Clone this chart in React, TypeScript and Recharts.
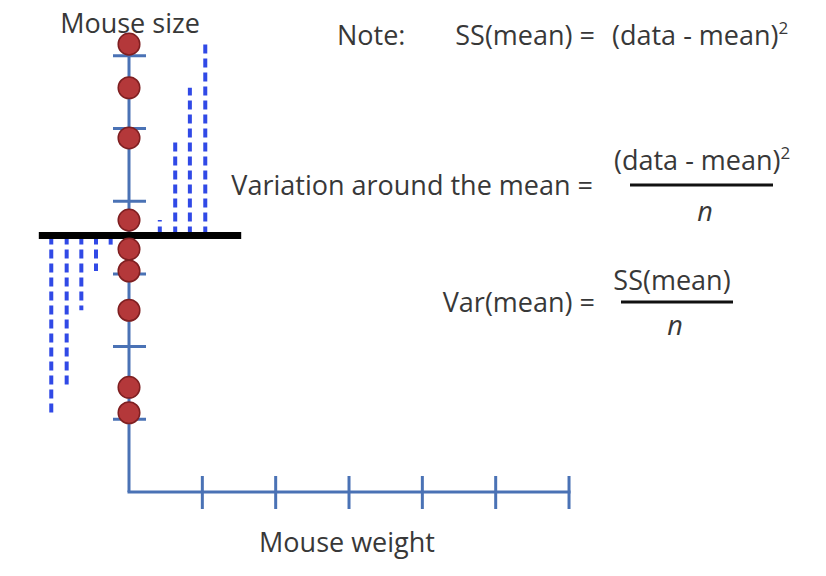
import React from 'react';
import { ScatterChart, Scatter, XAxis, YAxis, ReferenceLine } from 'recharts';

// mouse sizes, all drawn on the y axis (top to bottom)
const sizes = [6.16, 5.56, 4.87, 3.74, 3.34, 3.04, 2.5, 1.44, 1.09];
// where each residual (dashed) line sits horizontally
const residualX = [1.04, 0.83, 0.63, 0.42, -0.25, -0.45, -0.65, -0.85, -1.06];
const xTicks = [1, 2, 3, 4, 5, 6];
const yTicks = [1, 2, 3, 4, 5, 6];
const meanSpan = [-1.23, 1.53];
const yAxisTop = 6.2;
const xAxisEnd = 6;

const AXIS = '#4a72b5';
const DASH = '#3049e6';
const TEXT = '#383838';
const FONT = '"Open Sans", sans-serif';

const mean = sizes.reduce((a, b) => a + b, 0) / sizes.length;
const points = sizes.map((y) => ({ x: 0, y }));
const xTickData = xTicks.map((x) => ({ x, y: 0 }));
const yTickData = yTicks.map((y) => ({ x: 0, y }));

const Dot = (props: any) => (
    <circle cx={props.cx} cy={props.cy} r={10.8} fill="#b4383a" stroke="#7e1f21" strokeWidth={1.5} />
);

const XTick = (props: any) => (
    <line x1={props.cx} x2={props.cx} y1={props.cy - 16} y2={props.cy + 17} stroke={AXIS} strokeWidth={3} />
);

const YTick = (props: any) => (
    <line x1={props.cx - 16} x2={props.cx + 17} y1={props.cy} y2={props.cy} stroke={AXIS} strokeWidth={3} />
);

export default function App() {
    return (
        <div style={{ position: 'absolute', left: 0, top: 0, width: 826, height: 576, background: '#fff' }}>
            <ScatterChart width={826} height={576} margin={{ top: 19.45, right: 110.3, bottom: 40.4, left: 19 }}>
                <XAxis type="number" dataKey="x" domain={[-1.5, 8]} hide />
                <YAxis type="number" dataKey="y" domain={[-0.6, 6.5]} hide />

                <ReferenceLine
                    segment={[{ x: 0, y: 0 }, { x: 0, y: yAxisTop }]}
                    stroke={AXIS}
                    strokeWidth={3}
                />
                <ReferenceLine
                    segment={[{ x: 0, y: 0 }, { x: xAxisEnd, y: 0 }]}
                    stroke={AXIS}
                    strokeWidth={3}
                    strokeLinecap="square"
                />
                <Scatter data={xTickData} shape={XTick} isAnimationActive={false} />
                <Scatter data={yTickData} shape={YTick} isAnimationActive={false} />

                {sizes.map((s, i) => (
                    <ReferenceLine
                        key={`res-${i}`}
                        segment={[{ x: residualX[i], y: mean }, { x: residualX[i], y: s }]}
                        stroke={DASH}
                        strokeWidth={4}
                        strokeDasharray="9 5"
                    />
                ))}

                <ReferenceLine
                    segment={[{ x: meanSpan[0], y: mean }, { x: meanSpan[1], y: mean }]}
                    stroke="#000"
                    strokeWidth={7}
                />

                <Scatter data={points} shape={Dot} isAnimationActive={false} />
            </ScatterChart>

            <svg
                width={826}
                height={576}
                style={{ position: 'absolute', left: 0, top: 0, pointerEvents: 'none' }}
                fontFamily={FONT}
                fontSize={27}
                fill={TEXT}
            >
                <text x={130} y={33} textAnchor="middle">Mouse size</text>
                <text x={347} y={552} textAnchor="middle">Mouse weight</text>

                <text x={337} y={45}>Note:</text>
                <text x={595} y={45} textAnchor="end">SS(mean) =</text>
                <text x={612} y={45}>
                    (data - mean)<tspan fontSize={17} dy={-11}>2</tspan>
                </text>

                <text x={593} y={195} textAnchor="end">Variation around the mean =</text>
                <text x={614} y={170}>
                    (data - mean)<tspan fontSize={17} dy={-11}>2</tspan>
                </text>
                <line x1={630} x2={773} y1={185} y2={185} stroke="#111" strokeWidth={3} />
                <text x={705} y={221} textAnchor="middle" fontStyle="italic">n</text>

                <text x={595} y={312} textAnchor="end">Var(mean) =</text>
                <text x={672} y={290} textAnchor="middle">SS(mean)</text>
                <line x1={621} x2={733} y1={302} y2={302} stroke="#111" strokeWidth={3} />
                <text x={675} y={335} textAnchor="middle" fontStyle="italic">n</text>
            </svg>
        </div>
    );
}
